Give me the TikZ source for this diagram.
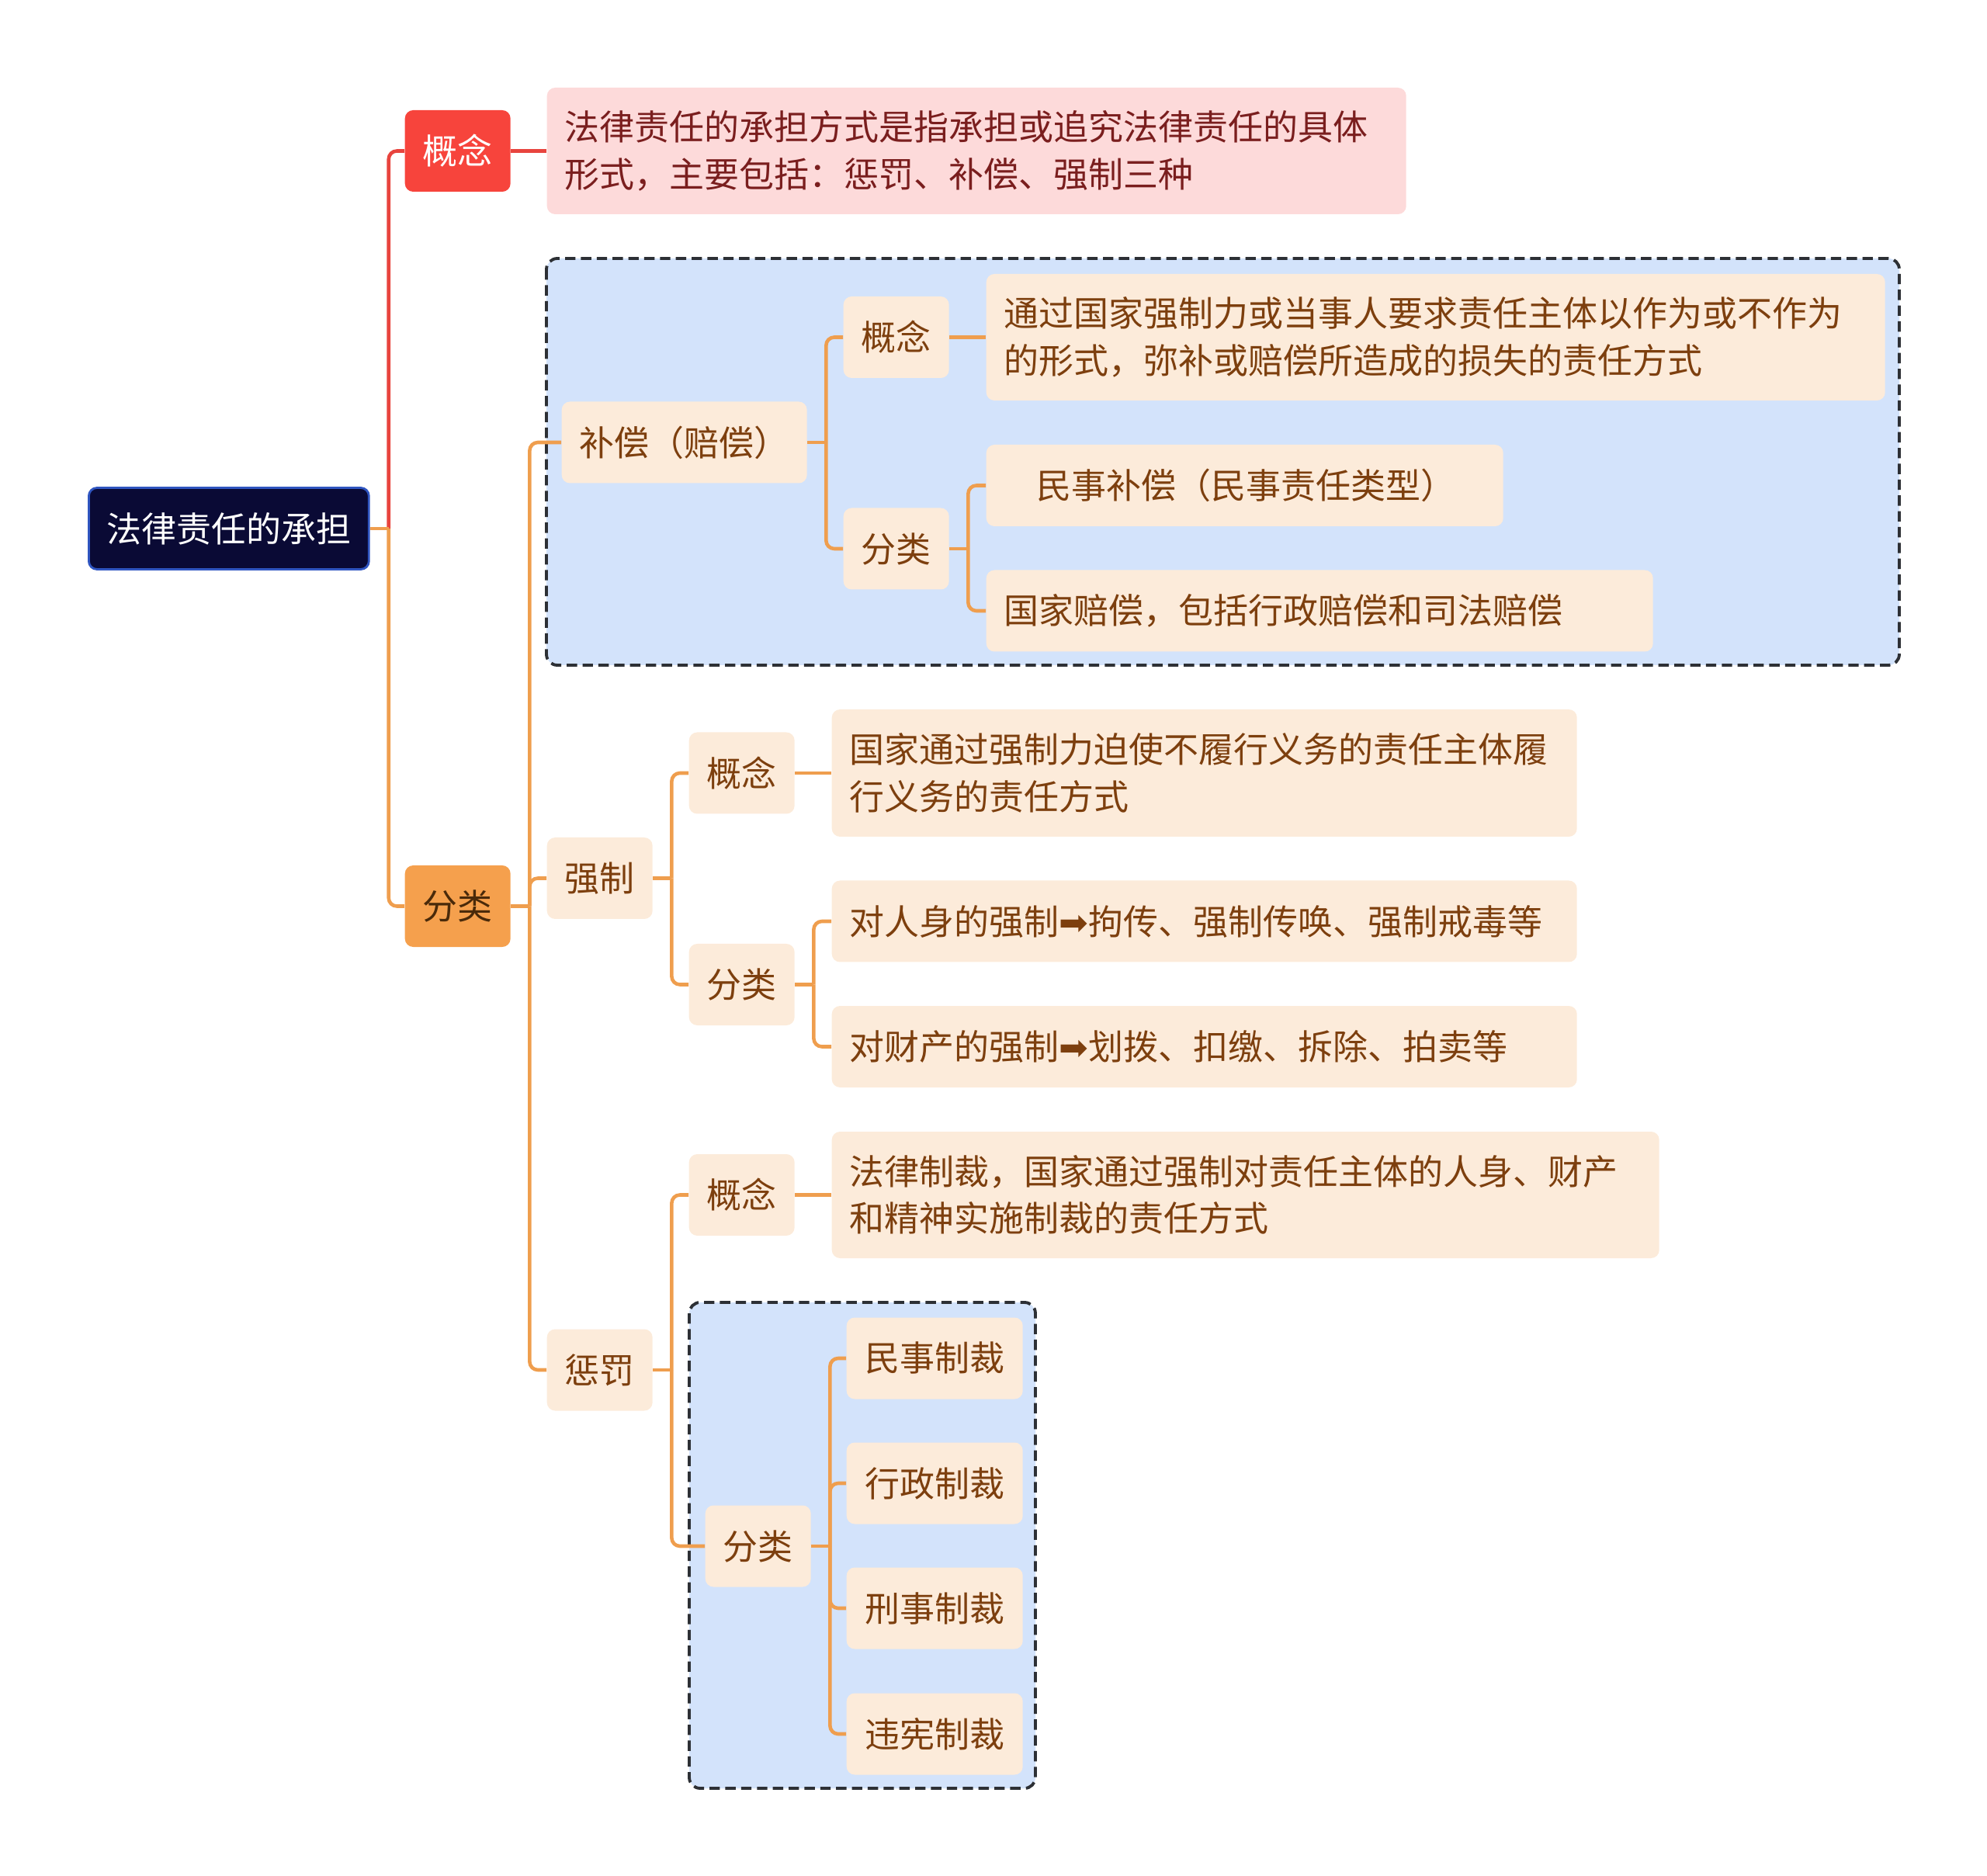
\documentclass[tikz,border=0pt]{standalone}
\usepackage{fontspec}
\newfontfamily\cjk{Noto Sans CJK SC}
\newfontfamily\arrowfont{DejaVu Sans}
\usetikzlibrary{positioning}
\definecolor{rootfill}{HTML}{0A0A35}
\definecolor{rootline}{HTML}{2F55C0}
\definecolor{redfill}{HTML}{F7443C}
\definecolor{pinkfill}{HTML}{FDDADA}
\definecolor{pinktxt}{HTML}{7A1E1E}
\definecolor{orangefill}{HTML}{F5A04D}
\definecolor{orangetxt}{HTML}{4A2A0A}
\definecolor{peachbg}{HTML}{FCEBDA}
\definecolor{peachtxt}{HTML}{7D3F0E}
\definecolor{grpfill}{HTML}{D3E3FB}
\definecolor{grpline}{HTML}{2D3035}
\definecolor{lineorange}{HTML}{EF9E4E}
\definecolor{linered}{HTML}{E8443E}
\tikzset{topic/.style={rounded corners=3pt, inner xsep=0.23cm, inner ysep=0pt, minimum height=1.05cm, anchor=west, font=\cjk\fontsize{12.8pt}{17.2pt}\selectfont}}
\tikzset{sub/.style={topic, fill=peachbg, text=peachtxt}}
\tikzset{note/.style={sub, align=left, text width=#1}}
\tikzset{grp/.style={draw=grpline, fill=grpfill, dash pattern=on 3.8pt off 2pt, line width=1.1pt, rounded corners=4pt}}
\tikzset{conn/.style={draw=lineorange, line width=1.3pt, rounded corners=3pt}}

\begin{document}
\begin{tikzpicture}
	\useasboundingbox (0,0) rectangle (25.6,-24.17);
	
	\draw[grp] (7.04,-3.33) rectangle (24.47,-8.57);
	\draw[grp] (8.88,-16.78) rectangle (13.34,-23.04);
	
	\node[topic, fill=rootfill, draw=rootline, line width=0.8pt, text=white, minimum width=3.59cm] (root) at (1.13,-6.81) {法律责任的承担};
	
	\node[topic, fill=redfill, text=white, minimum width=1.34cm] (gn) at (5.21,-1.945) {概念};
	\node[note=10.61cm, fill=pinkfill, text=pinktxt, minimum height=1.63cm] (gntext) at (7.04,-1.945) {法律责任的承担方式是指承担或追究法律责任的具体\\形式，主要包括：惩罚、补偿、强制三种};
	\node[topic, fill=orangefill, text=orangetxt, minimum width=1.34cm] (fl) at (5.21,-11.675) {分类};
	
	\node[sub, minimum width=3.14cm] (bc) at (7.23,-5.70) {补偿（赔偿）};
	\node[sub, minimum width=1.35cm] (bcgn) at (10.86,-4.345) {概念};
	\node[note=11.12cm, minimum height=1.63cm] (bcgntext) at (12.70,-4.345) {通过国家强制力或当事人要求责任主体以作为或不作为\\的形式，弥补或赔偿所造成的损失的责任方式};
	\node[sub, minimum width=1.35cm] (bcfl) at (10.86,-7.07) {分类};
	\node[note=6.20cm] (bcms) at (12.70,-6.255) {\hspace*{0.42cm}民事补偿（民事责任类型）};
	\node[note=8.13cm] (bcgj) at (12.70,-7.87) {国家赔偿，包括行政赔偿和司法赔偿};
	
	\node[sub, minimum width=1.35cm] (qz) at (7.04,-11.315) {强制};
	\node[sub, minimum width=1.35cm] (qzgn) at (8.87,-9.96) {概念};
	\node[note=9.14cm, minimum height=1.64cm] (qzgntext) at (10.71,-9.96) {国家通过强制力迫使不履行义务的责任主体履\\行义务的责任方式};
	\node[sub, minimum width=1.35cm] (qzfl) at (8.87,-12.685) {分类};
	\node[note=9.14cm] (qzrs) at (10.71,-11.87) {对人身的强制{\arrowfont ➡}拘传、强制传唤、强制戒毒等};
	\node[note=9.14cm] (qzcc) at (10.71,-13.485) {对财产的强制{\arrowfont ➡}划拨、扣缴、拆除、拍卖等};
	
	\node[sub, minimum width=1.35cm] (cf) at (7.04,-17.65) {惩罚};
	\node[sub, minimum width=1.35cm] (cfgn) at (8.87,-15.395) {概念};
	\node[note=10.20cm, minimum height=1.63cm] (cfgntext) at (10.71,-15.395) {法律制裁，国家通过强制对责任主体的人身、财产\\和精神实施制裁的责任方式};
	\node[sub, minimum width=1.34cm] (cffl) at (9.08,-19.92) {分类};
	\node[sub, minimum width=2.27cm] (cfms) at (10.90,-17.50) {民事制裁};
	\node[sub, minimum width=2.27cm] (cfxz) at (10.90,-19.11) {行政制裁};
	\node[sub, minimum width=2.27cm] (cfxs) at (10.90,-20.72) {刑事制裁};
	\node[sub, minimum width=2.27cm] (cfwx) at (10.90,-22.34) {违宪制裁};
	
	\coordinate (rootj) at ([xshift=0.24cm]root.east);
	\draw[conn, draw=linered] (rootj) |- (gn.west);
	\draw[conn] (rootj) |- (fl.west);
	\draw[conn] (root.east) -- (rootj);
	\draw[conn, draw=linered] (gn.east) -- (gntext.west);
	
	\coordinate (flj) at ([xshift=0.24cm]fl.east);
	\draw[conn] (fl.east) -- (flj);
	\foreach \c in {bc,qz,cf}
		\draw[conn] (flj) |- (\c.west);
	
	\foreach \p/\a/\b in {bc/bcgn/bcfl, bcfl/bcms/bcgj, qz/qzgn/qzfl, qzfl/qzrs/qzcc, cf/cfgn/cffl}{
		\coordinate (\p j) at ([xshift=0.24cm]\p.east);
		\draw[conn] (\p.east) -- (\p j);
		\draw[conn] (\p j) |- (\a.west);
		\draw[conn] (\p j) |- (\b.west);
	}
	
	\coordinate (cfflj) at ([xshift=0.24cm]cffl.east);
	\draw[conn] (cffl.east) -- (cfflj);
	\foreach \c in {cfms,cfxz,cfxs,cfwx}
		\draw[conn] (cfflj) |- (\c.west);
	
	\foreach \g in {bcgn,qzgn,cfgn}
		\draw[conn] (\g.east) -- (\g text.west);
\end{tikzpicture}
\end{document}
